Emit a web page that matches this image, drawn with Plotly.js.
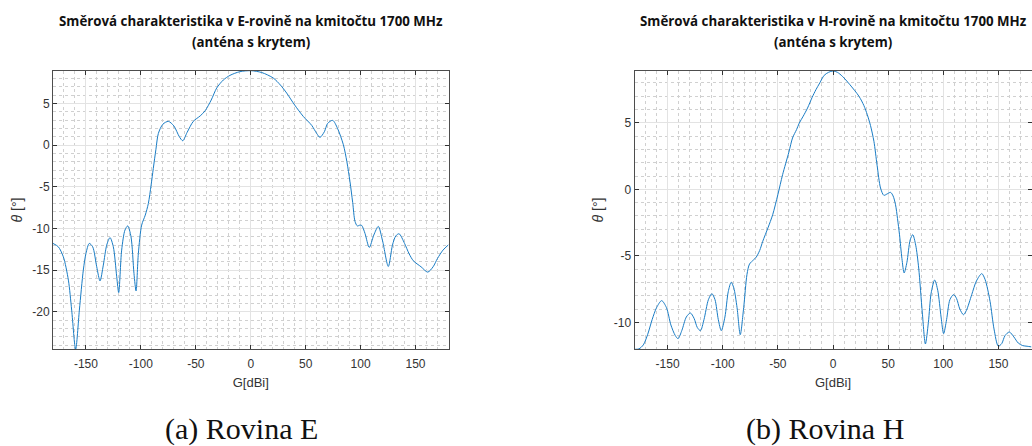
<!DOCTYPE html>
<html>
<head>
<meta charset="utf-8">
<script src="https://cdn.plot.ly/plotly-3.0.1.min.js"></script>
<style>
html,body{margin:0;padding:0;background:#fff;}
#chart{width:1032px;height:446px;}
</style>
</head>
<body>
<div id="chart"></div>
<script>
// E-plane data (x axis: G[dBi], y axis: theta)
const angleE = [-180,-175.2,-170.6,-166,-163,-159.4,-156,-152.4,-150,-147,-143.9,-140.2,-137.2,-134.2,-131.1,-128.1,-125.1,-122,-120.2,-117.5,-114.5,-112,-109,-106.3,-104.4,-102.3,-99.3,-96,-93.2,-90.7,-88.7,-86.3,-84.1,-80,-75,-70,-65,-61.9,-58,-52.3,-46,-41.6,-36,-31,-25,-18.9,-10,0,10,20.5,27,32.7,40,47.8,55.5,60,63,67,70,74.6,79,84.3,87.5,90.3,92.8,94.9,97,99.5,101,104,107.9,112,116.1,120,125.2,129,132,135,140,144,148,155,161.1,166,170,175,180];
const gainE = [-11.8,-12.2,-13.4,-16.2,-19.8,-24.5,-19.8,-15,-13,-11.8,-12.2,-14.6,-16.3,-14.4,-12,-11.1,-12.2,-15.8,-17.7,-12.6,-10.2,-9.7,-11,-15.4,-17.5,-13,-9.6,-8.4,-7.0,-4.8,-2.8,-0.5,1.4,2.5,2.84,2.3,1.0,0.52,1.5,2.84,3.5,4.1,5.4,6.84,7.8,8.36,8.8,8.92,8.7,8.04,7.2,6.24,4.8,3.44,2.36,1.4,0.92,1.6,2.6,2.96,2.0,0.04,-2.0,-4.36,-6.9,-9.16,-9.7,-9.6,-9.64,-10.6,-12.28,-10.8,-9.76,-11.5,-14.56,-12.0,-10.9,-10.64,-11.8,-13.0,-13.88,-14.6,-15.24,-14.6,-13.6,-12.6,-11.96];

// H-plane data
const angleH = [-180,-176,-172,-168,-164,-160,-155.4,-151,-147,-143,-140.5,-137,-133,-129.3,-126,-123,-120.2,-117,-113,-109.8,-107,-104,-101.3,-98,-95,-92.3,-90,-87,-84.1,-81,-78,-75.7,-72,-69.7,-66.5,-63.7,-59,-54.7,-50,-45.7,-40,-36.7,-33,-30.6,-27,-23.1,-19,-15.5,-12,-8,-4,0,4,8.5,15,23.6,28,31.1,34,37.1,40,43.1,46.1,49,52.2,54.5,56.7,58.5,60.3,62.5,64.5,67,70,72.3,75,77.7,81,83.8,86.5,89,92.2,95,98,100.3,103,106,109.3,112,115,118.3,121,125.8,130,134.9,138,142.4,146,149.9,153,156,159.9,164,168,172,176,180];
const gainH = [-12.03,-12.0,-11.7,-10.9,-9.8,-8.9,-8.37,-8.9,-10.2,-11.0,-11.23,-10.6,-9.6,-9.3,-9.7,-10.4,-10.63,-9.8,-8.3,-7.85,-8.3,-9.8,-10.63,-9.6,-7.7,-6.99,-7.4,-8.9,-10.93,-8.9,-6.4,-5.62,-5.3,-5.11,-4.6,-3.91,-2.9,-1.91,-0.4,1.1,2.8,3.86,4.5,4.98,5.5,6.11,6.9,7.49,8.0,8.57,8.8,8.9,8.8,8.5,7.9,6.99,6.3,5.61,4.8,3.61,1.8,0.1,-0.45,-0.35,-0.23,-0.5,-1.16,-2.2,-3.41,-5.2,-6.29,-5.5,-3.8,-3.41,-4.2,-5.92,-9.3,-11.63,-10.0,-7.8,-6.82,-7.6,-9.6,-10.85,-9.8,-8.3,-7.92,-8.2,-9.0,-9.43,-9.1,-7.92,-6.9,-6.34,-6.8,-8.42,-10.5,-11.8,-11.6,-11.0,-10.73,-11.1,-11.56,-11.75,-11.8,-11.85];

const xTicks = [-150,-100,-50,0,50,100,150];
const xTickText = ['-150','-100','-50','0','50','100','150'];
const yTicksE = [-20,-15,-10,-5,0,5];
const yTickTextE = ['-20','-15','-10','-5','0','5'];
const yTicksH = [-10,-5,0,5];
const yTickTextH = ['-10','-5','0','5'];

const titleLine1E = 'Směrová charakteristika v E-rovině na kmitočtu 1700 MHz';
const titleLine1H = 'Směrová charakteristika v H-rovině na kmitočtu 1700 MHz';
const titleLine2 = '(anténa s krytem)';
const xLabel = 'G[dBi]';
const yLabel = '<i>θ</i> [°]';
const captionE = '(a) Rovina E';
const captionH = '(b) Rovina H';

const W = 1032, H = 446;
const px = v => v / W;
const py = v => 1 - v / H;

const lineStyle = {color: '#1a7cc4', width: 1, shape: 'spline', smoothing: 0.8};

const traces = [
  {x: angleE, y: gainE, xaxis: 'x', yaxis: 'y', mode: 'lines', line: lineStyle, hoverinfo: 'skip'},
  {x: angleH, y: gainH, xaxis: 'x2', yaxis: 'y2', mode: 'lines', line: lineStyle, hoverinfo: 'skip'}
];

const tickFont = {family: 'Liberation Sans, Arial, sans-serif', size: 12, color: '#333'};
function xAx(domain, range, anchor) {
  return {
    domain: domain, range: range, anchor: anchor,
    tickvals: xTicks, ticktext: xTickText, ticks: 'inside', ticklen: 4, tickcolor: '#333', tickwidth: 1,
    mirror: 'ticks', showline: true, linecolor: '#4d4d4d', linewidth: 1,
    showgrid: true, gridcolor: '#e3e3e3', gridwidth: 1, zeroline: false,
    minor: {dtick: 10, tick0: 0, showgrid: true, gridcolor: '#d0d0d0', griddash: 'dot', gridwidth: 1, ticks: ''},
    tickfont: tickFont, ticklabelstandoff: 3,
    title: {text: xLabel, font: {family: 'Liberation Sans, Arial, sans-serif', size: 13, color: '#333'}, standoff: 8},
    automargin: false
  };
}
function yAx(domain, range, ticks, ticktext, anchor) {
  return {
    domain: domain, range: range, anchor: anchor,
    tickvals: ticks, ticktext: ticktext, ticks: 'inside', ticklen: 4, tickcolor: '#333', tickwidth: 1,
    mirror: 'ticks', showline: true, linecolor: '#4d4d4d', linewidth: 1,
    showgrid: true, gridcolor: '#e3e3e3', gridwidth: 1, zeroline: false,
    minor: {dtick: 1, tick0: 0, showgrid: true, gridcolor: '#d0d0d0', griddash: 'dot', gridwidth: 1, ticks: ''},
    tickfont: tickFont,
    title: {text: yLabel, font: {family: 'Liberation Sans, Arial, sans-serif', size: 14, color: '#333'}, standoff: 6},
    automargin: false
  };
}

const yDom = [py(349.3), py(70.7)];
const titleFont = {family: 'Open Sans, sans-serif', size: 13.3, color: '#111'};
const capFont = {family: 'Liberation Serif, serif', size: 30, color: '#111'};

const layout = {
  width: W, height: H,
  margin: {l: 0, r: 0, t: 0, b: 0},
  paper_bgcolor: '#fff', plot_bgcolor: '#fff',
  showlegend: false,
  xaxis: xAx([px(53), px(448.5)], [-180, 180], 'y'),
  yaxis: yAx(yDom, [-24.5, 8.92], yTicksE, yTickTextE, 'x'),
  xaxis2: xAx([px(634.5), px(1031.5)], [-180, 180], 'y2'),
  yaxis2: yAx(yDom, [-12.03, 8.92], yTicksH, yTickTextH, 'x2'),
  annotations: [
    {text: '<b>' + titleLine1E + '</b>', x: px(250.7), y: py(21), xref: 'paper', yref: 'paper', xanchor: 'center', yanchor: 'middle', showarrow: false, font: titleFont},
    {text: '<b>' + titleLine2 + '</b>', x: px(250.7), y: py(42), xref: 'paper', yref: 'paper', xanchor: 'center', yanchor: 'middle', showarrow: false, font: titleFont},
    {text: '<b>' + titleLine1H + '</b>', x: px(833), y: py(21), xref: 'paper', yref: 'paper', xanchor: 'center', yanchor: 'middle', showarrow: false, font: titleFont},
    {text: '<b>' + titleLine2 + '</b>', x: px(833), y: py(42), xref: 'paper', yref: 'paper', xanchor: 'center', yanchor: 'middle', showarrow: false, font: titleFont},
    {text: captionE, x: px(241.5), y: py(429), xref: 'paper', yref: 'paper', xanchor: 'center', yanchor: 'middle', showarrow: false, font: capFont},
    {text: captionH, x: px(825), y: py(429), xref: 'paper', yref: 'paper', xanchor: 'center', yanchor: 'middle', showarrow: false, font: capFont}
  ]
};

Plotly.newPlot('chart', traces, layout, {staticPlot: true, displayModeBar: false});
</script>
</body>
</html>
